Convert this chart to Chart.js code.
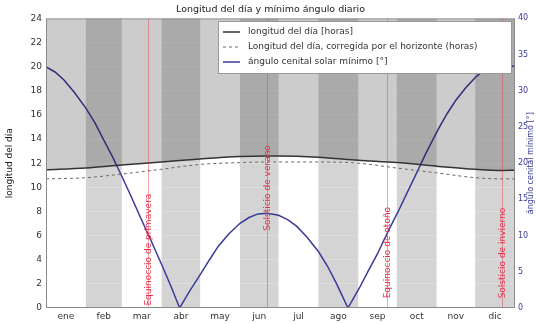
<!DOCTYPE html>
<html>
<head>
<meta charset="utf-8">
<script src="https://cdn.jsdelivr.net/npm/chart.js@4"></script>
<style>
  html, body { margin: 0; padding: 0; background: #fff; }
  #wrap { width: 537px; height: 324px; }
</style>
</head>
<body>
<div id="wrap"><canvas id="chart" width="537" height="324"></canvas></div>
<script>
// month names and their centre / start days
const meses = ['ene', 'feb', 'mar', 'abr', 'may', 'jun', 'jul', 'ago', 'sep', 'oct', 'nov', 'dic'];
const inicioMes = [0, 31, 59, 90, 120, 151, 181, 212, 243, 273, 304, 334, 365];

// day length (hours)
const diasLongitud = [0, 31, 59, 90, 120, 151, 172, 181, 212, 243, 273, 304, 334, 355, 365];
const longitudDia = [11.45, 11.6, 11.85, 12.1, 12.35, 12.55, 12.6, 12.6, 12.5, 12.25, 12.05, 11.75, 11.5, 11.4, 11.42];
const longitudCorregida = [10.7, 10.8, 11.1, 11.5, 11.9, 12.05, 12.1, 12.1, 12.1, 12.0, 11.6, 11.2, 10.8, 10.7, 10.7];

// minimum solar zenith angle (degrees)
const diasAngulo = [0, 7, 14, 22, 31, 38, 45, 52, 59, 66, 73, 81, 90, 97, 104, 112, 120, 127, 134, 142, 151, 158, 165, 172,
    181, 188, 195, 203, 212, 219, 226, 235, 244, 251, 258, 263, 268, 274, 281, 288, 296, 305, 312, 319, 327, 335, 342, 349, 355, 360, 365];
const anguloMin = [33.3, 32.6, 31.5, 29.8, 27.6, 25.6, 23.2, 20.8, 18.2, 15.5, 12.7, 9.6, 6.0, 3.1, 0, 2.4, 4.6, 6.6, 8.5, 10.2, 11.7, 12.5, 13.0, 13.1,
    12.8, 12.2, 11.3, 9.8, 7.8, 5.8, 3.4, 0, 2.8, 5.2, 7.5, 9.4, 11.2, 13.3, 15.9, 18.5, 21.5, 24.6, 26.8, 28.7, 30.5, 32.0, 33.0, 33.5, 33.7, 33.6, 33.3];

// equinoxes / solstices
const eventos = ['Equinoccio de primavera', 'Solsticio de verano', 'Equinoccio de otoño', 'Solsticio de invierno'];
const diasEvento = [79, 172, 265, 355];
const alturaTexto = [0.2, 6.4, 0.8, 0.8];

const ticksIzq = [0, 2, 4, 6, 8, 10, 12, 14, 16, 18, 20, 22, 24];
const ticksDer = [0, 5, 10, 15, 20, 25, 30, 35, 40];

const FONT = 'DejaVu Sans';
const AZUL = '#3a3a9a';

const toXY = (xs, ys) => xs.map((x, i) => ({ x: x, y: ys[i] }));
const centros = meses.map((m, i) => (inicioMes[i] + inicioMes[i + 1]) / 2);

const fondoPlugin = {
    id: 'fondo',
    beforeDraw(chart) {
        const { ctx, chartArea: a, scales: { x } } = chart;
        ctx.save();
        ctx.fillStyle = 'rgba(0,0,0,0.17)';
        for (let i = 1; i < 12; i += 2) {
            const x0 = x.getPixelForValue(inicioMes[i]);
            const x1 = x.getPixelForValue(inicioMes[i + 1]);
            ctx.fillRect(x0, a.top, x1 - x0, a.bottom - a.top);
        }
        ctx.restore();
    },
    afterDatasetsDraw(chart) {
        const { ctx, chartArea: a, scales: { x, y } } = chart;
        ctx.save();
        // event lines and labels
        eventos.forEach((txt, i) => {
            const px = Math.round(x.getPixelForValue(diasEvento[i])) + 0.5;
            ctx.strokeStyle = 'rgba(220,60,70,0.45)';
            ctx.lineWidth = 1;
            ctx.beginPath();
            ctx.moveTo(px, a.top);
            ctx.lineTo(px, a.bottom);
            ctx.stroke();
            ctx.save();
            ctx.translate(px, y.getPixelForValue(alturaTexto[i]));
            ctx.rotate(-Math.PI / 2);
            ctx.fillStyle = '#e0304a';
            ctx.font = '9px "' + FONT + '"';
            ctx.textAlign = 'left';
            ctx.textBaseline = 'middle';
            ctx.fillText(txt, 0, 0);
            ctx.restore();
        });
        // frame
        ctx.strokeStyle = '#8a8a8a';
        ctx.lineWidth = 1;
        ctx.strokeRect(a.left + 0.5, a.top + 0.5, a.right - a.left - 1, a.bottom - a.top - 1);

        // legend box
        const lx = 218, ly = 21, lw = 294, lh = 53;
        ctx.fillStyle = '#fff';
        ctx.fillRect(lx, ly, lw, lh);
        ctx.strokeStyle = '#999';
        ctx.strokeRect(lx + 0.5, ly + 0.5, lw - 1, lh - 1);
        ctx.font = '9px "' + FONT + '"';
        ctx.textBaseline = 'middle';
        ctx.textAlign = 'left';
        chart.data.datasets.forEach((ds, i) => {
            const ry = ly + 11 + i * 15;
            ctx.strokeStyle = ds.borderColor;
            ctx.lineWidth = ds.borderWidth;
            ctx.setLineDash(ds.borderDash || []);
            ctx.beginPath();
            ctx.moveTo(lx + 5, ry);
            ctx.lineTo(lx + 22, ry);
            ctx.stroke();
            ctx.setLineDash([]);
            ctx.fillStyle = '#333';
            ctx.fillText(ds.label, lx + 30, ry);
        });

        // right axis title, bottom-to-top like the left one
        ctx.save();
        ctx.translate(531, (a.top + a.bottom) / 2);
        ctx.rotate(-Math.PI / 2);
        ctx.fillStyle = AZUL;
        ctx.font = '8px "' + FONT + '"';
        ctx.textAlign = 'center';
        ctx.textBaseline = 'middle';
        ctx.fillText('ángulo cenital mínimo [°]', 0, 0);
        ctx.restore();
        ctx.restore();
    }
};

const chart = new Chart(document.getElementById('chart'), {
    type: 'line',
    data: {
        datasets: [{
            label: 'longitud del día [horas]',
            data: toXY(diasLongitud, longitudDia),
            borderColor: '#333',
            borderWidth: 1.5,
            backgroundColor: 'rgba(0,0,0,0.2)',
            fill: 'end',
            cubicInterpolationMode: 'monotone',
            pointRadius: 0,
            yAxisID: 'y'
        }, {
            label: 'Longitud del día, corregida por el horizonte (horas)',
            data: toXY(diasLongitud, longitudCorregida),
            borderColor: '#666',
            borderWidth: 1,
            borderDash: [3, 3],
            fill: false,
            cubicInterpolationMode: 'monotone',
            pointRadius: 0,
            yAxisID: 'y'
        }, {
            label: 'ángulo cenital solar mínimo [°]',
            data: toXY(diasAngulo, anguloMin),
            borderColor: AZUL,
            borderWidth: 1.5,
            fill: false,
            tension: 0,
            pointRadius: 0,
            yAxisID: 'y1'
        }]
    },
    options: {
        responsive: false,
        animation: false,
        layout: { padding: { top: 0, right: 0, bottom: 0, left: 4 } },
        plugins: {
            legend: { display: false },
            tooltip: { enabled: false },
            title: {
                display: true,
                text: 'Longitud del día y mínimo ángulo diario',
                color: '#222',
                font: { family: FONT, size: 9.5, weight: 'normal' },
                padding: { top: 4, bottom: 3 }
            }
        },
        scales: {
            x: {
                type: 'linear',
                min: 0,
                max: 365,
                grid: { display: false, drawTicks: false, tickLength: 0 },
                border: { display: false },
                afterBuildTicks: s => { s.ticks = centros.map(v => ({ value: v })); },
                afterFit: s => { s.height = 16; },
                ticks: {
                    autoSkip: false,
                    maxRotation: 0,
                    padding: 3,
                    color: '#333',
                    font: { family: FONT, size: 9 },
                    callback: (v, i) => meses[i]
                }
            },
            y: {
                position: 'left',
                min: 0,
                max: 24,
                afterBuildTicks: s => { s.ticks = ticksIzq.map(v => ({ value: v })); },
                afterFit: s => { s.width = 42; },
                grid: { color: 'rgba(255,255,255,0.2)', drawTicks: false },
                border: { display: false },
                ticks: { padding: 4, color: '#333', font: { family: FONT, size: 9 } },
                title: {
                    display: true,
                    text: 'longitud del día',
                    color: '#222',
                    padding: 0,
                    font: { family: FONT, size: 9 }
                }
            },
            y1: {
                position: 'right',
                min: 0,
                max: 40,
                afterBuildTicks: s => { s.ticks = ticksDer.map(v => ({ value: v })); },
                afterFit: s => { s.width = 22; },
                grid: { display: false, drawTicks: false },
                border: { display: false },
                ticks: { padding: 3, color: AZUL, font: { family: FONT, size: 8 } }
            }
        }
    },
    plugins: [fondoPlugin]
});
</script>
</body>
</html>
